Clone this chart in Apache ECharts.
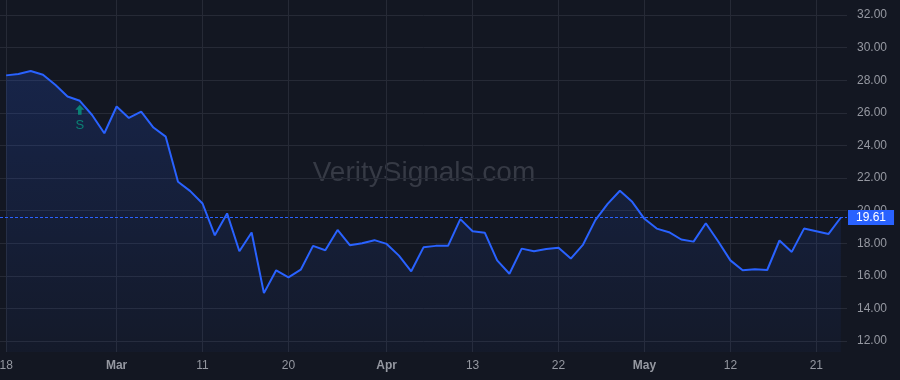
<!DOCTYPE html>
<html><head><meta charset="utf-8">
<script src="https://cdn.jsdelivr.net/npm/echarts@6/dist/echarts.min.js"></script>
<style>html,body{margin:0;padding:0;background:#131722}#c{width:900px;height:380px}</style>
</head><body><div id="c"></div>
<script>
const dates = ['02-18','02-19','02-20','02-21','02-24','02-25','02-26','02-27','02-28',
  '03-02','03-03','03-04','03-05','03-06','03-09','03-10','03-11','03-12','03-13',
  '03-16','03-17','03-18','03-19','03-20','03-23','03-24','03-25','03-26','03-27','03-30','03-31',
  '04-01','04-02','04-03','04-06','04-07','04-08','04-09','04-13','04-14','04-15','04-16','04-17',
  '04-20','04-21','04-22','04-23','04-24','04-27','04-28','04-29','04-30',
  '05-01','05-04','05-05','05-06','05-07','05-08','05-11','05-12','05-13','05-14','05-15',
  '05-18','05-19','05-20','05-21','05-22','05-26'];
const values = [28.33,28.41,28.60,28.37,27.75,27.03,26.77,25.90,24.78,26.42,
  25.72,26.11,25.13,24.57,21.80,21.23,20.47,18.52,19.86,17.54,
  18.69,14.97,16.37,15.94,16.41,17.87,17.60,18.85,17.91,18.03,
  18.22,17.99,17.27,16.31,17.78,17.87,17.87,19.51,18.77,18.67,
  16.98,16.16,17.70,17.54,17.68,17.76,17.09,17.95,19.45,20.45,
  21.25,20.57,19.53,18.93,18.71,18.26,18.13,19.26,18.15,16.98,
  16.37,16.43,16.39,18.20,17.50,18.93,18.77,18.60,19.61];
const tickDates = ['02-18','03-02','03-11','03-20','04-01','04-13','04-22','05-01','05-12','05-21'];
const tickTexts = ['18','Mar','11','20','Apr','13','22','May','12','21'];
const monthTexts = ['Mar','Apr','May'];
const priceMin = 12, priceMax = 32, priceStep = 2;
const lastPrice = 19.61;
const signalDates = ['02-26'];
const signalTexts = ['S'];
const watermark = 'VeritySignals.com';

const FONT = '"Liberation Sans", Arial, sans-serif';
const TXT = '#9598a1';
const GRIDC = '#262a36';
const BLUE = '#2962ff';
const GREEN = '#089981';

const signalData = signalDates.map((d, k) => ({value: [d, values[dates.indexOf(d)]], txt: signalTexts[k]}));

const chart = echarts.init(document.getElementById('c'), null, {renderer: 'canvas'});
chart.setOption({
  backgroundColor: '#131722',
  animation: false,
  textStyle: {fontFamily: FONT},
  graphic: [{
    type: 'text', x: 424, y: 173, z: 0, zlevel: 0, silent: true,
    style: {text: watermark, font: '28px ' + FONT, fill: '#363a45', align: 'center', verticalAlign: 'middle'}
  }],
  grid: [
    {left: 0, right: 53, top: 0, bottom: 28, containLabel: false, outerBoundsMode: 'none'},
    {left: 0, right: 53, top: 15, bottom: 39, containLabel: false, outerBoundsMode: 'none'}
  ],
  xAxis: [
    {type: 'category', gridIndex: 0, data: dates, boundaryGap: true,
     axisLine: {show: false}, axisTick: {show: false},
     axisLabel: {
       interval: (i, v) => tickDates.indexOf(v) >= 0,
       margin: 8, color: TXT, fontSize: 12, fontFamily: FONT,
       formatter: v => {
         const t = tickTexts[tickDates.indexOf(v)];
         return monthTexts.indexOf(t) >= 0 ? '{b|' + t + '}' : t;
       },
       rich: {b: {fontWeight: 'bold', color: TXT, fontSize: 12, fontFamily: FONT}}
     },
     splitLine: {show: true, alignWithLabel: true, interval: (i, v) => tickDates.indexOf(v) >= 0,
       lineStyle: {color: GRIDC, width: 1}}
    },
    {type: 'category', gridIndex: 1, data: dates, show: false}
  ],
  yAxis: [
    {type: 'value', gridIndex: 0, min: 11.359, max: 32.954, show: false, splitLine: {show: false}},
    {type: 'value', gridIndex: 1, min: priceMin, max: priceMax, interval: priceStep, position: 'right',
     axisLine: {show: false}, axisTick: {show: false},
     axisLabel: {margin: 10, color: TXT, fontSize: 12, fontFamily: FONT, formatter: v => v.toFixed(2)},
     splitLine: {show: true, lineStyle: {color: GRIDC, width: 1}}
    }
  ],
  series: [
    {type: 'line', xAxisIndex: 0, yAxisIndex: 0, data: values, symbol: 'none', z: 3,
     lineStyle: {color: BLUE, width: 2},
     areaStyle: {color: new echarts.graphic.LinearGradient(0, 0, 0, 1, [
       {offset: 0, color: 'rgba(41,98,255,0.25)'},
       {offset: 1, color: 'rgba(41,98,255,0.05)'}
     ])},
     markLine: {
       silent: true, symbol: 'none', animation: false,
       lineStyle: {color: BLUE, type: [3, 2], width: 1, opacity: 1},
       label: {show: true, position: 'end', distance: 1, formatter: () => lastPrice.toFixed(2),
         color: '#ffffff', backgroundColor: BLUE, padding: [2, 8, 1, 8], fontSize: 12, fontFamily: FONT},
       data: [{yAxis: lastPrice}]
     }
    },
    {type: 'scatter', xAxisIndex: 0, yAxisIndex: 0, data: signalData, z: 5,
     symbol: 'path://M5,0 L10,5 L7,5 L7,10 L3,10 L3,5 L0,5 Z', symbolSize: [9, 10], symbolOffset: [0, 9],
     itemStyle: {color: GREEN},
     label: {show: true, position: 'bottom', distance: 4, color: GREEN, fontSize: 13, fontFamily: FONT,
       formatter: p => p.data.txt}
    }
  ]
});
</script></body></html>
